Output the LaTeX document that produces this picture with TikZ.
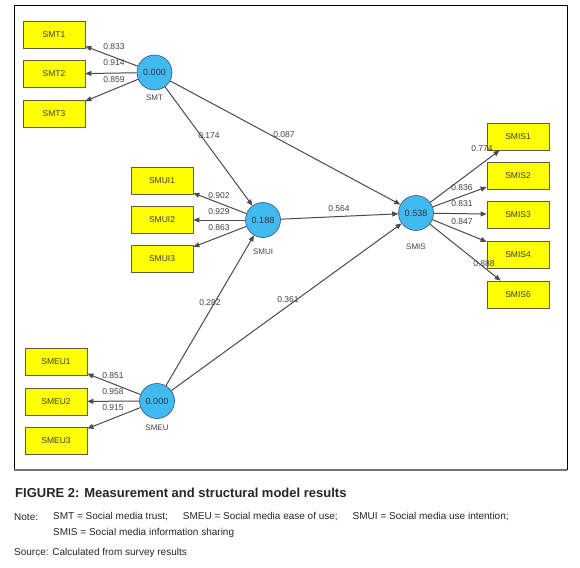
\documentclass[tikz,border=0pt]{standalone}
\usepackage{fontspec}
\setmainfont{Liberation Sans}
\usetikzlibrary{arrows.meta}
\definecolor{lvblue}{RGB}{64,186,240}
\definecolor{lvedge}{RGB}{60,80,110}
\definecolor{mvyellow}{RGB}{255,255,0}
\definecolor{mvedge}{RGB}{95,95,60}
\definecolor{arrowgray}{RGB}{75,75,75}
\definecolor{labgray}{RGB}{70,65,75}
\tikzset{
  lv/.style={circle, fill=lvblue, draw=lvedge, line width=0.6pt, minimum size=35pt, inner sep=0pt, font=\fontsize{9}{10}\selectfont, text=labgray!80!black},
  mv/.style={rectangle, fill=mvyellow, draw=mvedge, line width=0.8pt, minimum width=62pt, minimum height=27pt, inner sep=0pt, font=\fontsize{8.5}{9}\selectfont, text=black!75},
  lvname/.style={font=\fontsize{8}{9}\selectfont, text=labgray, inner sep=0pt},
  coef/.style={font=\fontsize{8.5}{9}\selectfont, text=labgray, inner sep=0pt},
  path/.style={draw=arrowgray, line width=1pt, -{Triangle[length=6pt,width=5pt]}},
}
\begin{document}
\begin{tikzpicture}[x=1pt,y=-1pt]
\useasboundingbox (0,0) rectangle (580,567);
\fill[white] (0,0) rectangle (580,567);
% frame
\draw[black, line width=1pt] (14,470) -- (14,6) -- (567,6) -- (567,470);
\draw[black!55, line width=2pt] (14,470) -- (567,470);
% latent variables
\node[lv] (smt) at (154.5,72.5) {0.000};
\node[lv] (smui) at (263,220) {0.188};
\node[lv] (smeu) at (157,401) {0.000};
\node[lv] (smis) at (416,213) {0.538};
\node[lvname] (smtn) at (154.5,98) {SMT};
\node[lvname] (smuin) at (263,252) {SMUI};
\node[lvname] (smeun) at (157,428) {SMEU};
\node[lvname] (smisn) at (416,247) {SMIS};
% indicators
\node[mv] (smt1) at (54,34.5) {SMT1};
\node[mv] (smt2) at (54,74) {SMT2};
\node[mv] (smt3) at (54,114) {SMT3};
\node[mv] (smui1) at (162,181) {SMUI1};
\node[mv] (smui2) at (162,220) {SMUI2};
\node[mv] (smui3) at (162,259) {SMUI3};
\node[mv] (smeu1) at (56,361.5) {SMEU1};
\node[mv] (smeu2) at (56,401.5) {SMEU2};
\node[mv] (smeu3) at (56,441) {SMEU3};
\node[mv] (smis1) at (518,136.5) {SMIS1};
\node[mv] (smis2) at (518,175.5) {SMIS2};
\node[mv] (smis3) at (518,214.5) {SMIS3};
\node[mv] (smis4) at (518,254.5) {SMIS4};
\node[mv] (smis6) at (518,294.5) {SMIS6};
% coefficient labels
\node[coef] (c1) at (114,47) {0.833};
\node[coef] (c2) at (114,62.5) {0.914};
\node[coef] (c3) at (114,80) {0.859};
\node[coef] (c4) at (219,196) {0.902};
\node[coef] (c5) at (219,211.5) {0.929};
\node[coef] (c6) at (219,228) {0.863};
\node[coef] (c7) at (113,376) {0.851};
\node[coef] (c8) at (113,391.5) {0.958};
\node[coef] (c9) at (113,408) {0.915};
\node[coef] (c10) at (482,149) {0.774};
\node[coef] (c11) at (462,188) {0.836};
\node[coef] (c12) at (462,203.5) {0.831};
\node[coef] (c13) at (462,222) {0.847};
\node[coef] (c14) at (484,264) {0.888};
\node[coef] (c15) at (209,136) {0.174};
\node[coef] (c16) at (284,135) {0.087};
\node[coef] (c17) at (339,209) {0.564};
\node[coef] (c18) at (210,303) {0.282};
\node[coef] (c19) at (288,300) {0.361};
% outer loadings
\draw[path] (smt) -- (smt1);
\draw[path] (smt) -- (smt2);
\draw[path] (smt) -- (smt3);
\draw[path] (smui) -- (smui1);
\draw[path] (smui) -- (smui2);
\draw[path] (smui) -- (smui3);
\draw[path] (smeu) -- (smeu1);
\draw[path] (smeu) -- (smeu2);
\draw[path] (smeu) -- (smeu3);
\draw[path] (smis) -- (smis1);
\draw[path] (smis) -- (smis2);
\draw[path] (smis) -- (smis3);
\draw[path] (smis) -- (smis4);
\draw[path] (smis) -- (smis6);
% structural paths
\draw[path] (smt) -- (smui);
\draw[path] (smt) -- (smis);
\draw[path] (smui) -- (smis);
\draw[path] (smeu) -- (smui);
\draw[path] (smeu) -- (smis);
% caption
\node[anchor=west, inner sep=0pt, font=\fontsize{13}{15}\selectfont\bfseries, text=black!85] (cap) at (15,493) {FIGURE 2: Measurement and structural model results};
\node[anchor=west, inner sep=0pt, font=\fontsize{10}{12}\selectfont, text=black!85] (notel) at (14,517) {Note:};
\node[anchor=west, inner sep=0pt, font=\fontsize{10}{12}\selectfont, text=black!85] (note1) at (53,517) {SMT = Social media trust;\hspace{15pt}SMEU = Social media ease of use;\hspace{15pt}SMUI = Social media use intention;};
\node[anchor=west, inner sep=0pt, font=\fontsize{10}{12}\selectfont, text=black!85] (note2) at (53,533) {SMIS = Social media information sharing};
\node[anchor=west, inner sep=0pt, font=\fontsize{10}{12}\selectfont, text=black!85] (src) at (14,553) {Source: Calculated from survey results};
\end{tikzpicture}
\end{document}
